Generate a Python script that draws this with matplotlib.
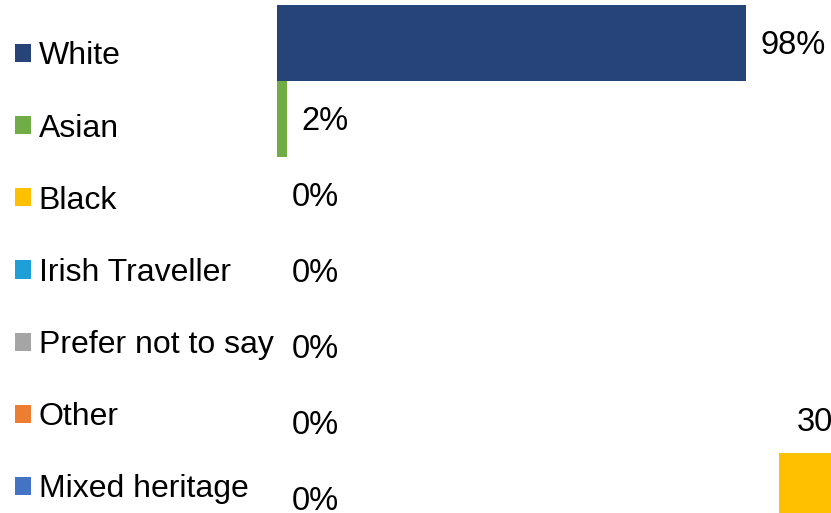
import numpy as np
import matplotlib.pyplot as plt
from matplotlib.patches import Patch

plt.rcParams['font.family'] = ['Liberation Sans', 'DejaVu Sans']

# Ethnicity breakdown (percent)
groups = ['White', 'Asian', 'Black', 'Irish Traveller', 'Prefer not to say',
          'Other', 'Mixed heritage']
shares = [98, 2, 0, 0, 0, 0, 0]
colours = ['#264478', '#70AD47', '#FFC000', '#1F9FD8', '#A5A5A5',
           '#ED7D31', '#4472C4']

# neighbouring chart, only its first bar shows at the edge
side_values = [30]
side_colours = ['#FFC000']

W, H = 831, 513
fig = plt.figure(figsize=(W / 100, H / 100), dpi=100)

# main bar chart, the bottom band runs past the edge of the figure
band = 76
top = 5
ax = fig.add_axes([277 / W, 1 - (top + band * len(groups)) / H,
                   478.6 / W, band * len(groups) / H])
y = np.arange(len(groups))
ax.barh(y, shares, height=1.0, color=colours)
ax.set_xlim(0, 100)
ax.set_ylim(len(groups) - 0.5, -0.5)
ax.axis('off')

for yi, v in zip(y, shares):
    ax.annotate(f'{v}%', (v, yi), xytext=(10.5, -1.8), textcoords='offset points',
                ha='left', va='center', fontsize=23.5, color='black')

handles = [Patch(facecolor=c, edgecolor='none', label=g)
           for g, c in zip(groups, colours)]
fig.legend(handles=handles, loc='upper left', bbox_to_anchor=(-0.009, 0.963),
           frameon=False, fontsize=23, handlelength=0.5, handleheight=0.5,
           handletextpad=0.25, labelspacing=1.32, borderaxespad=0.3)

# partial bar from the next chart
ax2 = fig.add_axes([779 / W, (H - 560) / H, 100 / W, 357 / H])
ax2.bar([0], side_values, width=1.0, color=side_colours)
ax2.set_xlim(-0.5, 0.5)
ax2.set_ylim(0, 100)
ax2.axis('off')
for v in side_values:
    ax2.annotate(f'{v}%', (0, v), xytext=(0, 11), textcoords='offset points',
                 ha='center', va='bottom', fontsize=23.5, color='black')

fig.savefig('out.png', dpi=100)
